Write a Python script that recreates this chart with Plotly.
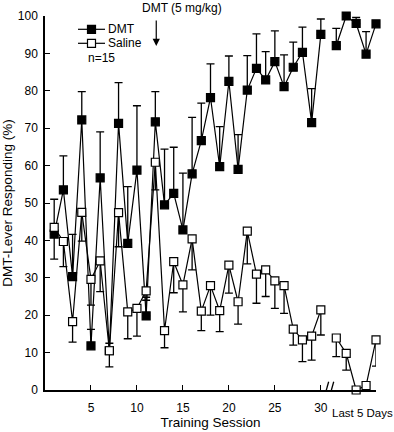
import plotly.graph_objects as go

# ---- data ----
sessions = list(range(1, 31))
last5_pos = [31.68, 32.76, 33.84, 34.92, 36.0]

dmt_sessions = [41.7, 53.5, 30.3, 72.2, 11.8, 56.7, 10.5, 71.3, 39.2, 58.8,
                19.8, 71.7, 49.5, 52.6, 42.8, 57.8, 66.7, 78.2, 59.7, 82.5,
                59.0, 80.2, 86.0, 82.9, 87.8, 81.1, 86.3, 90.3, 71.5, 95.1]
dmt_err_sessions = [9.3, 9.1, 11.3, 7.6, 4.4, 12.3, 2.0, 10.9, 15.2, 17.2,
                    5.0, 8.1, 14.9, 12.3, 15.2, 15.1, 10.0, 9.0, 10.7, 6.8,
                    9.3, 9.2, 9.2, 7.6, 8.2, 8.5, 6.7, 6.7, 9.1, 4.1]
dmt_last5 = [92.1, 100.0, 98.0, 89.8, 97.9]
dmt_err_last5 = [4.6, 0.0, 1.6, 6.0, 0.0]

sal_sessions = [43.5, 39.7, 18.3, 47.5, 29.6, 34.5, 10.5, 47.4, 20.9, 21.8,
                26.5, 60.9, 15.9, 34.3, 28.1, 40.4, 21.1, 27.9, 21.2, 33.4,
                23.6, 42.5, 31.0, 32.1, 29.2, 27.9, 16.3, 13.4, 14.4, 21.4]
sal_err_sessions = [8.5, 6.7, 5.5, 7.7, 6.9, 8.2, 4.3, 9.1, 7.2, 7.4,
                    2.5, 7.4, 4.6, 8.3, 7.2, 8.3, 5.2, 7.9, 5.6, 7.5,
                    6.0, 8.8, 7.8, 7.1, 7.4, 7.4, 4.3, 5.8, 6.4, 6.7]
sal_last5 = [13.9, 9.8, 0.0, 1.2, 13.4]
sal_err_last5 = [5.0, 4.5, 0.0, 0.0, 7.0]

x_ticks = [5, 10, 15, 20, 25, 30]
y_ticks = list(range(0, 101, 10))

FONT = "Liberation Sans, Arial, Helvetica, sans-serif"
BLACK = "#000000"

fig = go.Figure()

def add_series(x, y, err, up, filled):
    zeros = [0] * len(err)
    fig.add_trace(go.Scatter(
        x=x, y=y, mode="lines+markers", showlegend=False,
        line=dict(color=BLACK, width=1.2),
        marker=dict(symbol="square", size=8,
                    color=BLACK if filled else "white",
                    line=dict(color=BLACK, width=1.2)),
        error_y=dict(type="data", symmetric=False,
                     array=err if up else zeros,
                     arrayminus=zeros if up else err,
                     color=BLACK, thickness=1.3, width=4),
        cliponaxis=False,
    ))

add_series(sessions, dmt_sessions, dmt_err_sessions, True, True)
add_series(last5_pos, dmt_last5, dmt_err_last5, True, True)
add_series(sessions, sal_sessions, sal_err_sessions, False, False)
add_series(last5_pos, sal_last5, sal_err_last5, False, False)

# axis break marks
for dx in (0.0, 0.55):
    fig.add_shape(type="line", xref="x", yref="y",
                  x0=30.35 + dx, y0=-2.2, x1=30.85 + dx, y1=2.2,
                  line=dict(color=BLACK, width=1.3))

# manual legend (paper coordinates; window pixels -> paper)
def px2paper(px, py):
    return (px - 45) / 331.0, (390 - py) / 374.0

for label, py, fill in (("DMT", 29.3, BLACK), ("Saline", 43.3, "white")):
    x0, yy = px2paper(78, py)
    x1, _ = px2paper(105, py)
    fig.add_shape(type="line", xref="paper", yref="paper",
                  x0=x0, y0=yy, x1=x1, y1=yy, line=dict(color=BLACK, width=1.2))
    cx0, cy0 = px2paper(87.5, py + 4)
    cx1, cy1 = px2paper(95.5, py - 4)
    fig.add_shape(type="rect", xref="paper", yref="paper",
                  x0=cx0, y0=cy0, x1=cx1, y1=cy1,
                  line=dict(color=BLACK, width=1.2), fillcolor=fill)
    tx, _ = px2paper(106, py)
    fig.add_annotation(text=label, xref="paper", yref="paper", x=tx, y=yy,
                       xanchor="left", yanchor="middle", showarrow=False,
                       font=dict(family=FONT, size=12, color=BLACK))
nx, ny = px2paper(86, 57.5)
fig.add_annotation(text="n=15", xref="paper", yref="paper", x=nx, y=ny,
                   xanchor="left", yanchor="middle", showarrow=False,
                   font=dict(family=FONT, size=12, color=BLACK))

fig.add_annotation(text="DMT (5 mg/kg)", xref="x", yref="paper",
                   x=14.9, y=(390 - 8) / 374.0, yanchor="middle", showarrow=False,
                   font=dict(family=FONT, size=12, color=BLACK))
fig.add_annotation(text="", xref="x", yref="y", x=12.1, y=92.0,
                   ax=12.1, ay=99.2, axref="x", ayref="y",
                   showarrow=True, arrowhead=2, arrowsize=1.2, arrowwidth=1.2,
                   arrowcolor=BLACK)
fig.add_annotation(text="Last 5 Days", xref="x", yref="paper",
                   x=31.0, y=(390 - 413) / 374.0, xanchor="left", yanchor="middle",
                   showarrow=False,
                   font=dict(family=FONT, size=11.5, color=BLACK))

fig.update_layout(
    width=394, height=432,
    margin=dict(l=45, r=18, t=16, b=42),
    paper_bgcolor="white", plot_bgcolor="white",
    font=dict(family=FONT, size=12, color=BLACK),
    showlegend=False,
    xaxis=dict(range=[0, 36], tickvals=x_ticks, ticktext=[str(v) for v in x_ticks],
               ticks="inside", ticklen=5, tickwidth=1.3, tickcolor=BLACK,
               showline=True, linecolor=BLACK, linewidth=1.5,
               showgrid=False, zeroline=False, automargin=False,
               title=dict(text="Training Session", font=dict(size=13.5), standoff=0),
               tickfont=dict(size=12), ticklabelstandoff=6),
    yaxis=dict(range=[0, 100], tickvals=y_ticks,
               ticks="inside", ticklen=5, tickwidth=1.3, tickcolor=BLACK,
               showline=True, linecolor=BLACK, linewidth=1.5,
               showgrid=False, zeroline=False, automargin=False,
               title=dict(text="DMT-Lever Responding (%)", font=dict(size=13.5), standoff=3),
               tickfont=dict(size=12), ticklabelstandoff=3),
)

fig.write_html("out.html",
               config={"displayModeBar": False},
               post_script="document.body.style.margin='0';document.body.style.overflow='hidden';")
